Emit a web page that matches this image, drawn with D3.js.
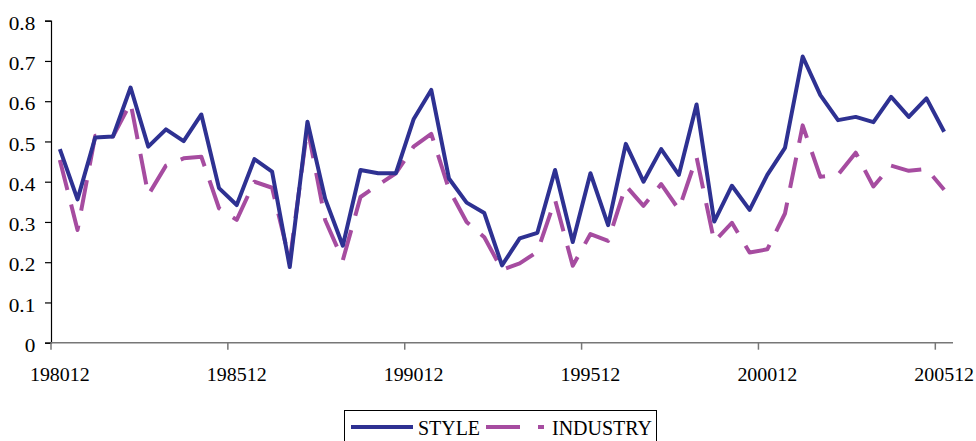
<!DOCTYPE html>
<html>
<head>
<meta charset="utf-8">
<script src="https://cdn.jsdelivr.net/npm/d3@7"></script>
<style>
  body { margin: 0; background: #fff; }
  svg text { font-family: "Times New Roman", "Liberation Serif", "DejaVu Serif", serif; fill: #000; }
</style>
</head>
<body>
<div id="my_dataviz"></div>
<script>
// half-year periods, 198012 .. 200512
var periods = [
  "198012","198106","198112","198206","198212","198306","198312","198406","198412","198506",
  "198512","198606","198612","198706","198712","198806","198812","198906","198912","199006",
  "199012","199106","199112","199206","199212","199306","199312","199406","199412","199506",
  "199512","199606","199612","199706","199712","199806","199812","199906","199912","200006",
  "200012","200106","200112","200206","200212","200306","200312","200406","200412","200506",
  "200512"
];

var styleValues = [
  0.481, 0.356, 0.510, 0.512, 0.634, 0.487, 0.530, 0.501, 0.567, 0.384,
  0.342, 0.456, 0.425, 0.188, 0.549, 0.358, 0.241, 0.429, 0.421, 0.421,
  0.555, 0.628, 0.408, 0.348, 0.322, 0.192, 0.259, 0.273, 0.429, 0.250,
  0.421, 0.292, 0.494, 0.400, 0.481, 0.417, 0.592, 0.301, 0.390, 0.330,
  0.417, 0.484, 0.711, 0.615, 0.553, 0.561, 0.548, 0.611, 0.561, 0.607,
  0.524
];

var industryValues = [
  0.454, 0.280, 0.514, 0.512, 0.596, 0.367, 0.440, 0.458, 0.462, 0.334,
  0.305, 0.400, 0.385, 0.203, 0.535, 0.305, 0.205, 0.362, 0.392, 0.421,
  0.487, 0.519, 0.381, 0.300, 0.262, 0.181, 0.197, 0.226, 0.355, 0.191,
  0.270, 0.253, 0.390, 0.340, 0.394, 0.331, 0.461, 0.251, 0.298, 0.224,
  0.232, 0.321, 0.540, 0.412, 0.417, 0.472, 0.388, 0.440, 0.427, 0.432,
  0.380
];

var xTickLabels = ["198012","198512","199012","199512","200012","200512"];
var yTicks = [0, 0.1, 0.2, 0.3, 0.4, 0.5, 0.6, 0.7, 0.8];
var seriesNames = ["STYLE", "INDUSTRY"];

var W = 976, H = 441;
var plotLeft = 51, plotRight = 953, plotTop = 20.7, plotBottom = 342.7;

var styleColor = "#2e3192";
var industryColor = "#a64ca0";

var svg = d3.select("#my_dataviz")
  .append("svg")
    .attr("width", W)
    .attr("height", H);

// category axis, each period gets a band, points sit in the middle
var x = d3.scaleBand()
  .domain(periods)
  .range([plotLeft, plotRight])
  .paddingInner(0)
  .paddingOuter(0);

var y = d3.scaleLinear()
  .domain([0, 0.8])
  .range([plotBottom, plotTop]);

var cx = function(p){ return x(p) + x.bandwidth() / 2; };

// y axis
var yAxis = svg.append("g")
  .attr("transform", "translate(" + plotLeft + ",0)")
  .call(d3.axisLeft(y).tickValues(yTicks).tickSize(6).tickPadding(8)
    .tickFormat(function(d){ return d === 0 ? "0" : d3.format(".1f")(d); }));
yAxis.attr("font-family", null);
yAxis.select(".domain").attr("stroke", "#000").attr("stroke-width", 1.2);
yAxis.selectAll(".tick line").attr("stroke", "#000").attr("stroke-width", 1.2);
yAxis.selectAll(".tick text")
  .attr("font-size", 19)
  .attr("dy", "0.45em")
  .attr("transform", "scale(1.12,1)");

// x axis: tick marks at the left edge of every 10th period, label centred on the period
var xAxis = svg.append("g")
  .attr("transform", "translate(0," + plotBottom + ")");
xAxis.append("line")
  .attr("x1", plotLeft).attr("x2", plotRight)
  .attr("stroke", "#777").attr("stroke-width", 1.5);
xAxis.selectAll("line.tick")
  .data(xTickLabels)
  .enter()
  .append("line")
    .attr("class", "tick")
    .attr("x1", function(d){ return x(d); })
    .attr("x2", function(d){ return x(d); })
    .attr("y1", 0).attr("y2", 7)
    .attr("stroke", "#777").attr("stroke-width", 1.5);
xAxis.selectAll("text")
  .data(xTickLabels)
  .enter()
  .append("text")
    .attr("transform", function(d){ return "translate(" + cx(d) + ",38) scale(1.05,1)"; })
    .attr("text-anchor", "middle")
    .attr("font-size", 19)
    .text(function(d){ return d; });

var line = d3.line()
  .x(function(d, i){ return cx(periods[i]); })
  .y(function(d){ return y(d); });

// INDUSTRY, long dashes
svg.append("path")
  .datum(industryValues)
  .attr("d", line)
  .attr("fill", "none")
  .attr("stroke", industryColor)
  .attr("stroke-width", 4)
  .attr("stroke-dasharray", "31,15")
  .attr("stroke-linejoin", "round");

// STYLE, solid
svg.append("path")
  .datum(styleValues)
  .attr("d", line)
  .attr("fill", "none")
  .attr("stroke", styleColor)
  .attr("stroke-width", 4)
  .attr("stroke-linejoin", "round");

// legend
var legend = svg.append("g");
legend.append("rect")
  .attr("x", 344.5).attr("y", 410.5)
  .attr("width", 312).attr("height", 40)
  .attr("fill", "#fff").attr("stroke", "#000").attr("stroke-width", 1);

var legendItems = [
  { name: seriesNames[0], color: styleColor, dash: null, x0: 351, x1: 413, tx: 418 },
  { name: seriesNames[1], color: industryColor, dash: "34,18", x0: 486, x1: 544, tx: 552 }
];
legendItems.forEach(function(item){
  legend.append("line")
    .attr("x1", item.x0).attr("x2", item.x1)
    .attr("y1", 427).attr("y2", 427)
    .attr("stroke", item.color)
    .attr("stroke-width", 4)
    .attr("stroke-dasharray", item.dash);
  legend.append("text")
    .attr("x", item.tx)
    .attr("y", 434.5)
    .attr("font-size", 20)
    .attr("textLength", item.name === "STYLE" ? 62 : 100)
    .attr("lengthAdjust", "spacingAndGlyphs")
    .text(item.name);
});
</script>
</body>
</html>
